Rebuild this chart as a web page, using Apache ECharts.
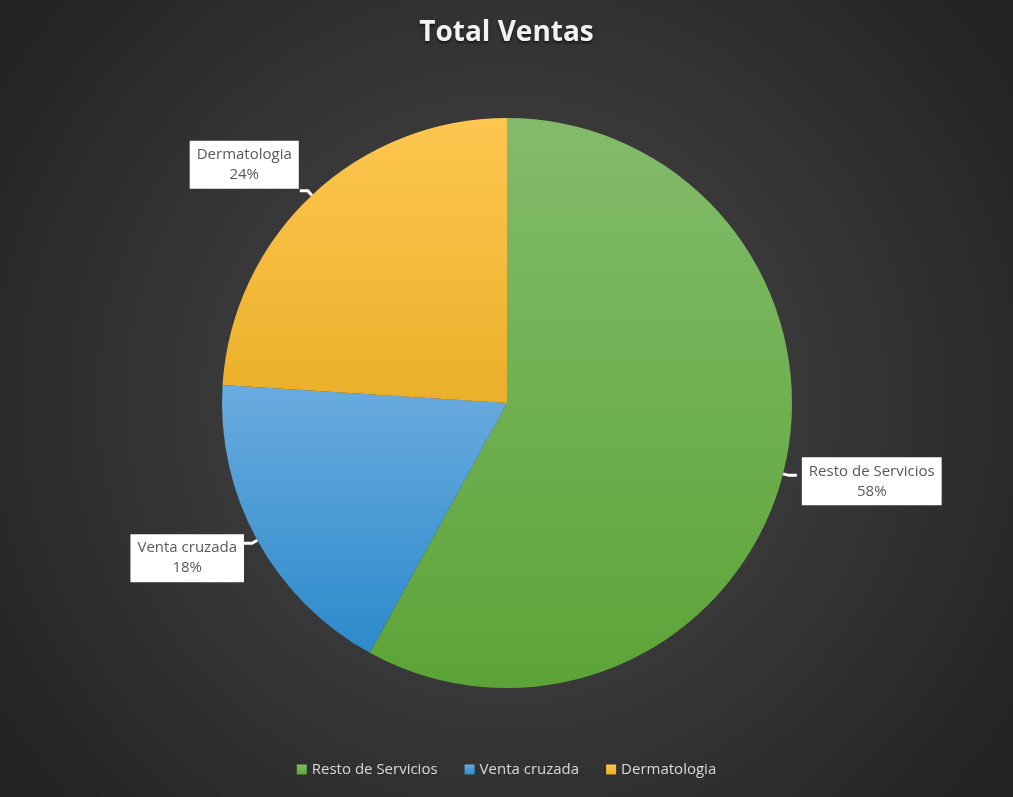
<!DOCTYPE html>
<html>
<head>
<meta charset="utf-8">
<script src="https://cdn.jsdelivr.net/npm/echarts@6/dist/echarts.min.js"></script>
<style>
html,body{margin:0;padding:0;background:#2a2a2a;}
#main{width:1013px;height:797px;}
</style>
</head>
<body>
<div id="main"></div>
<script>
const categories = ['Resto de Servicios', 'Venta cruzada', 'Dermatologia'];
const values = [58, 18, 24];
const colorTop = ['#83bb6b', '#6aabdf', '#ffc650'];
const colorBottom = ['#5ca437', '#2c8acb', '#eab02a'];

const chart = echarts.init(document.getElementById('main'));
const data = categories.map((c, i) => ({
  name: c,
  value: values[i],
  itemStyle: {
    color: new echarts.graphic.LinearGradient(0, 0, 0, 1, [
      {offset: 0, color: colorTop[i]},
      {offset: 1, color: colorBottom[i]}
    ])
  }
}));

// label nudges (layout only)
const labelShift = [[0, 6], [5, 15], [4, -26]];

chart.setOption({
  backgroundColor: new echarts.graphic.RadialGradient(0.5, 0.5, 0.75, [
    {offset: 0, color: '#4b4b4d'},
    {offset: 1, color: '#242424'}
  ]),
  title: {
    text: 'Total Ventas',
    left: 'center',
    top: 14,
    textStyle: {
      color: '#f2f2f2',
      fontFamily: 'Open Sans',
      fontWeight: 'bold',
      fontSize: 28,
      textShadowColor: 'rgba(0,0,0,0.6)',
      textShadowBlur: 3,
      textShadowOffsetY: 2
    }
  },
  legend: {
    bottom: 15,
    left: 'center',
    itemWidth: 10,
    itemHeight: 10,
    itemGap: 27,
    icon: 'rect',
    textStyle: {color: '#d9d9d9', fontFamily: 'Open Sans', fontSize: 15},
    data: categories
  },
  series: [{
    type: 'pie',
    center: [507, 403],
    radius: 285,
    startAngle: 90,
    clockwise: true,
    data: data,
    label: {
      show: true,
      position: 'outside',
      formatter: '{t|{b}}\n{t|{d}%}',
      backgroundColor: '#ffffff',
      padding: [4, 7, 4, 7],
      rich: {
        t: {
          color: '#595959',
          fontFamily: 'Open Sans',
          fontSize: 15,
          lineHeight: 20,
          align: 'center'
        }
      }
    },
    labelLine: {
      show: true,
      length: 6,
      length2: 8,
      smooth: false,
      lineStyle: {color: '#ffffff', width: 3, cap: 'butt'}
    },
    labelLayout: function (p) {
      const s = labelShift[p.dataIndex];
      return {dx: s[0], dy: s[1]};
    },
    emphasis: {disabled: true}
  }]
});
</script>
</body>
</html>
